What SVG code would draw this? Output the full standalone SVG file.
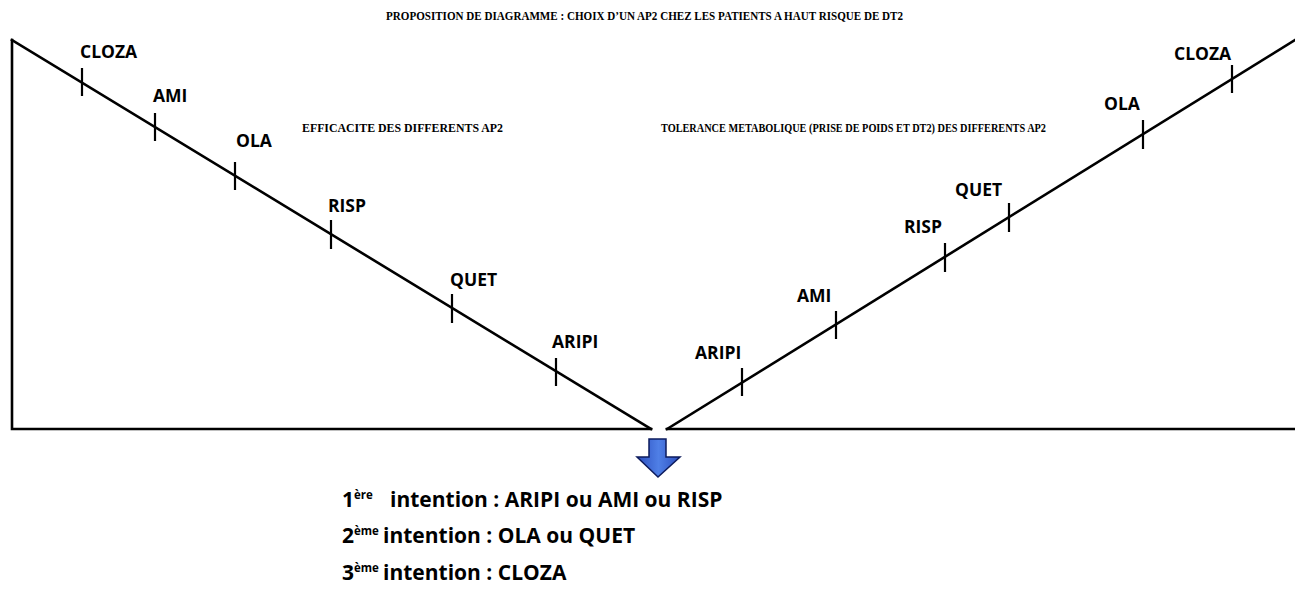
<svg xmlns="http://www.w3.org/2000/svg" width="1295" height="592" viewBox="0 0 1295 592">
<defs>
<style>
.ln{stroke:#000;stroke-width:2.6;fill:none;stroke-linecap:square}
.tk{stroke:#000;stroke-width:2.2}
.lbl{font-family:"Open Sans","Liberation Sans",sans-serif;font-weight:700;font-size:17.5px;fill:#000}
.ser{font-family:"Liberation Serif","Times New Roman",serif;font-weight:700;fill:#000}
.bt{font-family:"Open Sans","Liberation Sans",sans-serif;font-weight:700;font-size:21px;fill:#000}
.sup{font-size:11.5px}
</style>
<linearGradient id="blue" x1="0" y1="0" x2="1" y2="0">
<stop offset="0" stop-color="#2c4fbf"/>
<stop offset="0.5" stop-color="#4f7fe6"/>
<stop offset="1" stop-color="#2c4fbf"/>
</linearGradient>
</defs>
<rect width="1295" height="592" fill="#fff"/>
<text class="ser" x="386" y="20" font-size="11.5" textLength="517" lengthAdjust="spacingAndGlyphs">PROPOSITION DE DIAGRAMME : CHOIX D’UN AP2 CHEZ LES PATIENTS A HAUT RISQUE DE DT2</text>
<text class="ser" x="302" y="132" font-size="11.5" textLength="201" lengthAdjust="spacingAndGlyphs">EFFICACITE DES DIFFERENTS AP2</text>
<text class="ser" x="661" y="132" font-size="11.5" textLength="385" lengthAdjust="spacingAndGlyphs">TOLERANCE METABOLIQUE (PRISE DE POIDS ET DT2) DES DIFFERENTS AP2</text>
<g id="connectors">
<path class="ln" d="M12,40 L12,429 L651,429"/>
<path class="ln" d="M12,40 L651,429"/>
<path class="ln" d="M667,429 L1295,429"/>
<path class="ln" d="M667,429 L1295,40"/>
</g>
<g id="left-scale">
<g id="l-cloza"><line class="tk" x1="82" y1="68" x2="82" y2="96"/><text class="lbl" x="80" y="58">CLOZA</text></g>
<g id="l-ami"><line class="tk" x1="155" y1="113" x2="155" y2="141"/><text class="lbl" x="153" y="102">AMI</text></g>
<g id="l-ola"><line class="tk" x1="235" y1="162" x2="235" y2="190"/><text class="lbl" x="236" y="147">OLA</text></g>
<g id="l-risp"><line class="tk" x1="331" y1="220" x2="331" y2="249"/><text class="lbl" x="328" y="212">RISP</text></g>
<g id="l-quet"><line class="tk" x1="452" y1="294" x2="452" y2="323"/><text class="lbl" x="450" y="286">QUET</text></g>
<g id="l-aripi"><line class="tk" x1="556" y1="358" x2="556" y2="386"/><text class="lbl" x="552" y="348">ARIPI</text></g>
</g>
<g id="right-scale">
<g id="r-aripi"><line class="tk" x1="742" y1="368" x2="742" y2="396"/><text class="lbl" x="695" y="359">ARIPI</text></g>
<g id="r-ami"><line class="tk" x1="836" y1="311" x2="836" y2="339"/><text class="lbl" x="797" y="302">AMI</text></g>
<g id="r-risp"><line class="tk" x1="945" y1="243" x2="945" y2="272"/><text class="lbl" x="904" y="233">RISP</text></g>
<g id="r-quet"><line class="tk" x1="1009" y1="203" x2="1009" y2="232"/><text class="lbl" x="955" y="196">QUET</text></g>
<g id="r-ola"><line class="tk" x1="1143" y1="120" x2="1143" y2="149"/><text class="lbl" x="1104" y="110">OLA</text></g>
<g id="r-cloza"><line class="tk" x1="1232" y1="65" x2="1232" y2="93"/><text class="lbl" x="1174" y="60">CLOZA</text></g>
</g>
<g id="arrow">
<polygon points="649,439 666,439 666,457 680,457 658,477 637,457 649,457" fill="url(#blue)" stroke="#0d1b5c" stroke-width="1.5" stroke-linejoin="miter"/>
</g>
<g id="recommendations">
<text class="bt" x="342" y="507">1<tspan class="sup" dy="-8">ère</tspan><tspan x="390" dy="8">intention : ARIPI ou AMI ou RISP</tspan></text>
<text class="bt" x="342" y="543">2<tspan class="sup" dy="-8">ème</tspan><tspan x="383" dy="8">intention : OLA ou QUET</tspan></text>
<text class="bt" x="342" y="580">3<tspan class="sup" dy="-8">ème</tspan><tspan x="383" dy="8">intention : CLOZA</tspan></text>
</g>
</svg>
